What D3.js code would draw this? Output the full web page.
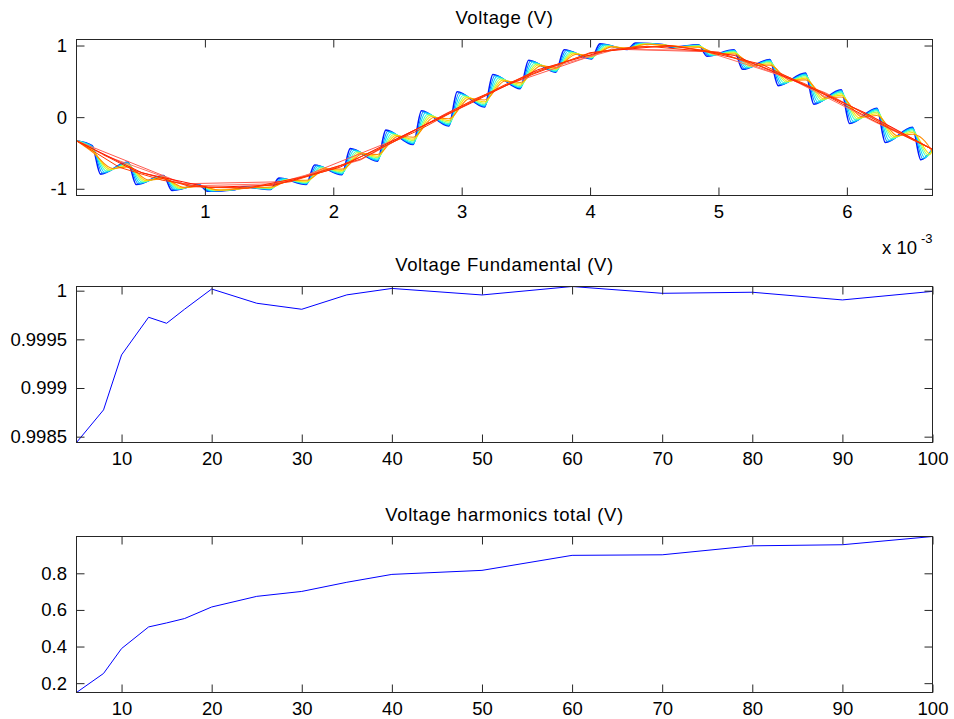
<!DOCTYPE html>
<html>
<head>
<meta charset="utf-8">
<script src="https://cdn.jsdelivr.net/npm/d3@7"></script>
<style>
html, body { margin: 0; padding: 0; background: #ffffff; }
svg { display: block; }
</style>
</head>
<body>
<svg id="fig" width="954" height="719"></svg>
<script>
// ---------- Waveform panel data (time in ms, voltage in V) ----------
// Instants of the 24 steps per period of the sampled waveform
const edgeTimes = [0.152, 0.430, 0.708, 0.985, 1.263, 1.541, 1.819, 2.097, 2.374, 2.652, 2.930, 3.208,
                   3.486, 3.763, 4.041, 4.319, 4.597, 4.875, 5.152, 5.430, 5.708, 5.986, 6.264, 6.541];
const waveStart = -0.33;
const waveEnd = -0.45;
const periodEnd = 6.667;
const preLead = 0.03;

// Reconstructions, from the most detailed (blue) to the smoothest (orange)
const waveColors = ["#0018ff", "#0088ff", "#00dcff", "#3cffc8", "#b4ff4c", "#ffdc00", "#ff8c00"];
const waveLags = [0.035, 0.05, 0.065, 0.08, 0.095, 0.11, 0.13];

const wavePre1 = [-0.398, -0.628, -0.814, -0.946, -1.012, -1.010, -0.939, -0.804, -0.614, -0.382, -0.124, 0.142,
                  0.398, 0.628, 0.814, 0.946, 1.012, 1.010, 0.939, 0.804, 0.614, 0.382, 0.124, -0.142];
const wavePost1 = [-0.795, -0.941, -1.023, -1.035, -0.976, -0.851, -0.668, -0.440, -0.181, 0.089, 0.354, 0.595,
                   0.795, 0.941, 1.023, 1.035, 0.976, 0.851, 0.668, 0.440, 0.181, -0.089, -0.354, -0.595];
const wavePre2 = [-0.406, -0.634, -0.818, -0.947, -1.012, -1.007, -0.934, -0.797, -0.606, -0.373, -0.116, 0.150,
                  0.406, 0.634, 0.818, 0.947, 1.012, 1.007, 0.934, 0.797, 0.606, 0.373, 0.116, -0.150];
const wavePost2 = [-0.782, -0.930, -1.016, -1.032, -0.977, -0.857, -0.677, -0.452, -0.196, 0.074, 0.338, 0.580,
                   0.782, 0.930, 1.016, 1.032, 0.977, 0.857, 0.677, 0.452, 0.196, -0.074, -0.338, -0.580];
const wavePre3 = [-0.412, -0.639, -0.822, -0.949, -1.011, -1.004, -0.929, -0.791, -0.599, -0.366, -0.108, 0.158,
                  0.412, 0.639, 0.822, 0.949, 1.011, 1.004, 0.929, 0.791, 0.599, 0.366, 0.108, -0.158];
const wavePost3 = [-0.769, -0.921, -1.009, -1.029, -0.979, -0.862, -0.686, -0.463, -0.209, 0.059, 0.323, 0.566,
                   0.769, 0.921, 1.009, 1.029, 0.979, 0.862, 0.686, 0.463, 0.209, -0.059, -0.323, -0.566];
const wavePre4 = [-0.426, -0.650, -0.829, -0.952, -1.010, -0.999, -0.920, -0.778, -0.583, -0.349, -0.091, 0.174,
                  0.426, 0.650, 0.829, 0.952, 1.010, 0.999, 0.920, 0.778, 0.583, 0.349, 0.091, -0.174];
const wavePost4 = [-0.752, -0.907, -1.000, -1.025, -0.980, -0.868, -0.698, -0.479, -0.228, 0.038, 0.302, 0.546,
                   0.752, 0.907, 1.000, 1.025, 0.980, 0.868, 0.698, 0.479, 0.228, -0.038, -0.302, -0.546];
const wavePre5 = [-0.444, -0.664, -0.838, -0.956, -1.008, -0.992, -0.908, -0.762, -0.564, -0.328, -0.070, 0.194,
                  0.444, 0.664, 0.838, 0.956, 1.008, 0.992, 0.908, 0.762, 0.564, 0.328, 0.070, -0.194];
const wavePost5 = [-0.740, -0.897, -0.994, -1.022, -0.981, -0.873, -0.706, -0.491, -0.242, 0.024, 0.287, 0.532,
                   0.740, 0.897, 0.994, 1.022, 0.981, 0.873, 0.706, 0.491, 0.242, -0.024, -0.287, -0.532];
const wavePre6 = [-0.462, -0.678, -0.848, -0.960, -1.006, -0.985, -0.895, -0.745, -0.545, -0.307, -0.048, 0.214,
                  0.462, 0.678, 0.848, 0.960, 1.006, 0.985, 0.895, 0.745, 0.545, 0.307, 0.048, -0.214];
const wavePost6 = [-0.727, -0.887, -0.987, -1.019, -0.982, -0.878, -0.715, -0.502, -0.255, 0.009, 0.272, 0.517,
                   0.727, 0.887, 0.987, 1.019, 0.982, 0.878, 0.715, 0.502, 0.255, -0.009, -0.272, -0.517];
const wavePre7 = [-0.483, -0.695, -0.859, -0.965, -1.005, -0.976, -0.881, -0.726, -0.521, -0.281, -0.022, 0.239,
                  0.483, 0.695, 0.859, 0.965, 1.005, 0.976, 0.881, 0.726, 0.521, 0.281, 0.022, -0.239];
const wavePost7 = [-0.716, -0.878, -0.981, -1.017, -0.983, -0.883, -0.722, -0.513, -0.268, -0.005, 0.259, 0.504,
                   0.716, 0.878, 0.981, 1.017, 0.983, 0.883, 0.722, 0.513, 0.268, 0.005, -0.259, -0.504];

// Coarsely sampled reconstructions (red family)
const coarse1Times = [0, 0.833, 1.667, 2.5, 3.333, 4.167, 5.0, 5.833, 6.667];
const coarse1 = [-0.33, -0.93, -0.90, -0.30, 0.44, 0.95, 0.91, 0.34, -0.45];
const coarse2Times = [0.21, 0.877, 1.543, 2.21, 2.877, 3.543, 4.21, 4.877, 5.543, 6.21, 6.667];
const coarse2 = [-0.53, -0.96, -0.93, -0.60, 0.05, 0.62, 0.95, 0.93, 0.55, -0.06, -0.45];
const coarse3Times = [0, 0.513, 1.026, 1.538, 2.051, 2.564, 3.077, 3.590, 4.103, 4.615, 5.128, 5.641, 6.154, 6.667];
const coarse3 = [-0.33, -0.78, -0.98, -0.95, -0.70, -0.24, 0.20, 0.66, 0.92, 1.00, 0.86, 0.47, 0.05, -0.45];
const coarse4Times = [0, 0.444, 0.889, 1.333, 1.778, 2.222, 2.667, 3.111, 3.556, 4.0, 4.444, 4.889, 5.333, 5.778, 6.222, 6.667];
const coarse4 = [-0.33, -0.74, -0.97, -0.99, -0.83, -0.58, -0.15, 0.26, 0.60, 0.90, 0.99, 0.92, 0.74, 0.36, -0.06, -0.45];
const coarse5Times = [0, 0.333, 0.667, 1.0, 1.333, 1.667, 2.0, 2.333, 2.667, 3.0, 3.333, 3.667, 4.0, 4.333, 4.667,
                      5.0, 5.333, 5.667, 6.0, 6.333, 6.667];
const coarse5 = [-0.33, -0.70, -0.88, -0.98, -0.99, -0.90, -0.72, -0.46, -0.18, 0.14, 0.45, 0.69, 0.89, 0.98, 0.99,
                 0.90, 0.71, 0.47, 0.18, -0.15, -0.45];
const coarseColors = ["#ff5a50", "#ff7060", "#ff1400", "#ff2a00", "#ff3c00"];

const waveXTicks = [1, 2, 3, 4, 5, 6];
const waveXLabels = ["1", "2", "3", "4", "5", "6"];
const waveYTicks = [-1, 0, 1];
const waveYLabels = ["-1", "0", "1"];
const waveYLimits = [-1.094, 1.084];

// ---------- Sweep panels data ----------
const sampleCounts = [5, 8, 10, 13, 15, 17, 20, 25, 30, 35, 40, 50, 60, 70, 80, 90, 100];
const fundamental = [0.99844, 0.998775, 0.99934, 0.999727, 0.999665, 0.99981, 1.000017, 0.999871, 0.999809,
                     0.999957, 1.000023, 0.999956, 1.000043, 0.999973, 0.999984, 0.999905, 0.999993];
const harmonicsTotal = [0.149, 0.253, 0.389, 0.507, 0.529, 0.553, 0.616, 0.674, 0.701, 0.751, 0.794, 0.816,
                        0.898, 0.901, 0.950, 0.956, 1.001];

const countTicks = [10, 20, 30, 40, 50, 60, 70, 80, 90, 100];
const countLabels = ["10", "20", "30", "40", "50", "60", "70", "80", "90", "100"];
const fundTicks = [0.9985, 0.999, 0.9995, 1];
const fundLabels = ["0.9985", "0.999", "0.9995", "1"];
const harmTicks = [0.2, 0.4, 0.6, 0.8];
const harmLabels = ["0.2", "0.4", "0.6", "0.8"];

// ---------- Layout ----------
const FONT = "'Liberation Sans', Arial, Helvetica, sans-serif";
const FS = 18.5;
const axLeft = 76.5, axRight = 932.5;
const tickLen = 8;
const svg = d3.select("#fig");

function drawFrame(g, x, y, top, bottom, xt, xl, yt, yl) {
  const ink = "#262626";
  const bx = g.append("g").attr("transform", `translate(0,${bottom})`)
    .call(d3.axisBottom(x).tickValues(xt).tickFormat((d, i) => xl[i])
      .tickSizeInner(-tickLen).tickSizeOuter(0).tickPadding(9));
  const tx = g.append("g").attr("transform", `translate(0,${top})`)
    .call(d3.axisTop(x).tickValues(xt).tickFormat("")
      .tickSizeInner(-tickLen).tickSizeOuter(0));
  const ly = g.append("g").attr("transform", `translate(${axLeft},0)`)
    .call(d3.axisLeft(y).tickValues(yt).tickFormat((d, i) => yl[i])
      .tickSizeInner(-tickLen).tickSizeOuter(0).tickPadding(9.5));
  const ry = g.append("g").attr("transform", `translate(${axRight},0)`)
    .call(d3.axisRight(y).tickValues(yt).tickFormat("")
      .tickSizeInner(-tickLen).tickSizeOuter(0));
  [bx, tx, ly, ry].forEach(a => {
    a.select(".domain").remove();
    a.selectAll(".tick line").attr("stroke", ink);
    a.selectAll("text").attr("fill", "#000").attr("font-size", FS).attr("font-family", FONT);
  });
  g.append("rect")
    .attr("x", axLeft).attr("y", top)
    .attr("width", axRight - axLeft).attr("height", bottom - top)
    .attr("fill", "none").attr("stroke", ink).attr("stroke-width", 1);
}

function title(txt, yBase) {
  svg.append("text").attr("x", (axLeft + axRight) / 2).attr("y", yBase)
    .attr("text-anchor", "middle").attr("font-family", FONT).attr("font-size", FS)
    .attr("letter-spacing", 0.6).attr("fill", "#000").text(txt);
}

// ---------- Panel 1: voltage waveforms ----------
{
  const top = 39.5, bottom = 195.5;
  const x = d3.scaleLinear().domain([0, periodEnd]).range([axLeft, axRight]);
  const y = d3.scaleLinear().domain(waveYLimits).range([bottom, top]);
  const g = svg.append("g");
  const clipId = "clipWave";
  svg.append("clipPath").attr("id", clipId).append("rect")
    .attr("x", axLeft).attr("y", top).attr("width", axRight - axLeft).attr("height", bottom - top);
  const plot = g.append("g").attr("clip-path", `url(#${clipId})`);

  const pres = [wavePre1, wavePre2, wavePre3, wavePre4, wavePre5, wavePre6, wavePre7];
  const posts = [wavePost1, wavePost2, wavePost3, wavePost4, wavePost5, wavePost6, wavePost7];
  const line = d3.line().x(d => x(d[0])).y(d => y(d[1]));
  const smooth = d3.line().x(d => x(d[0])).y(d => y(d[1])).curve(d3.curveMonotoneX);

  pres.forEach((pre, s) => {
    const pts = [[0, waveStart]];
    edgeTimes.forEach((t, k) => {
      pts.push([t - preLead, pre[k]]);
      pts.push([t + waveLags[s], posts[s][k]]);
    });
    pts.push([periodEnd, waveEnd]);
    plot.append("path").datum(pts)
      .attr("d", smooth)
      .attr("fill", "none").attr("stroke", waveColors[s])
      .attr("stroke-width", s === 0 ? 1.6 : 1.1)
      .attr("stroke-linejoin", "round");
  });

  const coarseT = [coarse1Times, coarse2Times, coarse3Times, coarse4Times, coarse5Times];
  const coarseV = [coarse1, coarse2, coarse3, coarse4, coarse5];
  coarseT.forEach((ts, s) => {
    const pts = ts.map((t, i) => [t, coarseV[s][i]]);
    plot.append("path").datum(pts).attr("d", line)
      .attr("fill", "none").attr("stroke", coarseColors[s]).attr("stroke-width", 1);
  });

  drawFrame(g, x, y, top, bottom, waveXTicks, waveXLabels, waveYTicks, waveYLabels);
  title("Voltage (V)", 23.5);

  // exponent label of the time axis
  const ex = svg.append("text").attr("font-family", FONT).attr("fill", "#000");
  ex.append("tspan").attr("x", 882).attr("y", 254).attr("font-size", FS).text("x 10");
  ex.append("tspan").attr("x", 921).attr("y", 243).attr("font-size", 13).text("-3");
}

// ---------- Panels 2 and 3: sweep over sample count ----------
function sweepPanel(values, top, bottom, yt, yl, txt, titleY) {
  const x = d3.scaleLinear().domain(d3.extent(sampleCounts)).range([axLeft, axRight]);
  const y = d3.scaleLinear().domain(d3.extent(values)).range([bottom, top]);
  const g = svg.append("g");
  g.append("path").datum(sampleCounts.map((n, i) => [n, values[i]]))
    .attr("d", d3.line().x(d => x(d[0])).y(d => y(d[1])))
    .attr("fill", "none").attr("stroke", "#0000ff").attr("stroke-width", 1);
  drawFrame(g, x, y, top, bottom, countTicks, countLabels, yt, yl);
  title(txt, titleY);
}

sweepPanel(fundamental, 286.5, 442.5, fundTicks, fundLabels, "Voltage Fundamental (V)", 270.5);
sweepPanel(harmonicsTotal, 536.5, 692.5, harmTicks, harmLabels, "Voltage harmonics total (V)", 520.5);
</script>
</body>
</html>
